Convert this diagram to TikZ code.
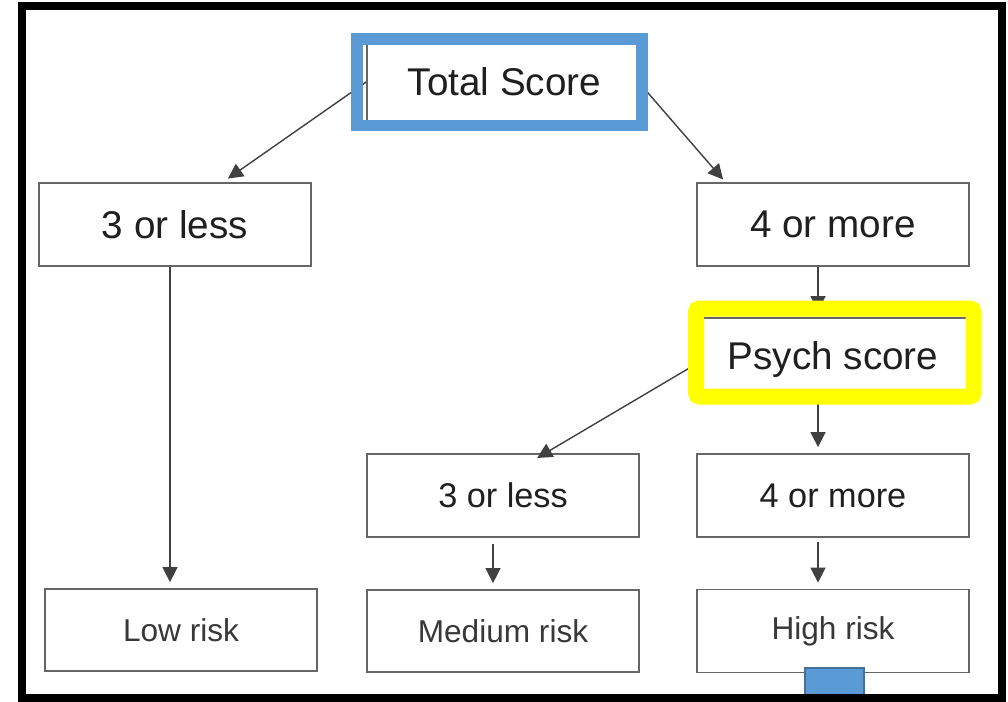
\documentclass[tikz,border=0pt]{standalone}
\usepackage{fontspec}
\setmainfont{Liberation Sans}
\usetikzlibrary{arrows.meta}
\definecolor{hlblue}{HTML}{5B9BD5}
\definecolor{hlblueedge}{HTML}{41719C}
\definecolor{hlyellow}{HTML}{FFFF00}

\begin{document}
\begin{tikzpicture}[x=0.02cm,y=-0.02cm,
  box/.style={draw=black!60,line width=1pt,fill=white,minimum width=5.44cm,minimum height=1.66cm,inner sep=0pt,text=black!88},
  big/.style={font=\fontsize{22}{26}\selectfont},
  mid/.style={font=\fontsize{19.5}{23}\selectfont},
  small/.style={font=\fontsize{18}{22}\selectfont,text=black!78},
  arr/.style={-{Triangle[length=3mm,width=3mm]},draw=black!75,line width=0.8pt,shorten >=0.12cm},
  bluehl/.style={draw=hlblue,line width=0.23cm},
  yellowhl/.style={draw=hlyellow,line width=0.32cm,rounded corners=2pt},
  frame/.style={draw=black,line width=0.16cm},
]
\useasboundingbox (0,0) rectangle (1008,701);
\node[box,big,minimum width=5.5cm,minimum height=1.72cm] (total) at (504.5,82) {Total Score};
\node[box,big] (lessT) at (175,224.5) {3 or less};
\node[box,big] (moreT) at (833,224.5) {4 or more};
\node[box,big,minimum height=1.64cm] (psych) at (833,359) {Psych score};
\node[box,mid] (lessM) at (503,495.5) {3 or less};
\node[box,mid] (moreM) at (833,495.5) {4 or more};
\node[box,small,minimum height=1.64cm] (low) at (181,630) {Low risk};
\node[box,small,minimum height=1.64cm] (medium) at (503,631) {Medium risk};
\node[box,small,minimum height=1.66cm] (high) at (833,631) {High risk};
\coordinate (tipL) at (223,182);
\coordinate (tipR) at (727,184);
\coordinate (tipM) at (532,461);
\draw[arr] (total.west) -- (tipL);
\draw[arr] ([yshift=-0.1cm]total.east) -- (tipR);
\draw[arr] ([yshift=-0.1cm]psych.west) -- (tipM);
\draw[arr] ([xshift=-0.1cm]lessT.south) -- ([xshift=-0.1cm]lessT.south |- low.north);
\draw[arr] ([xshift=-0.3cm]moreT.south) -- ([xshift=-0.3cm]moreT.south |- psych.north);
\draw[arr] ([xshift=-0.3cm]psych.south) -- ([xshift=-0.3cm]psych.south |- moreM.north);
\draw[arr] ([xshift=-0.2cm,yshift=-0.12cm]lessM.south) -- ([xshift=-0.2cm]lessM.south |- medium.north);
\draw[arr] ([xshift=-0.3cm,yshift=-0.08cm]moreM.south) -- ([xshift=-0.3cm]moreM.south |- high.north);
\draw[bluehl] (357,39) rectangle (642,125.5);
\draw[yellowhl] (696,308.5) rectangle (973.5,396.5);
\draw[fill=hlblue,draw=hlblueedge,line width=0.6pt] (805,668) rectangle (864,700);
\draw[frame] (22,6) rectangle (1002,697.5);
\end{tikzpicture}
\end{document}
